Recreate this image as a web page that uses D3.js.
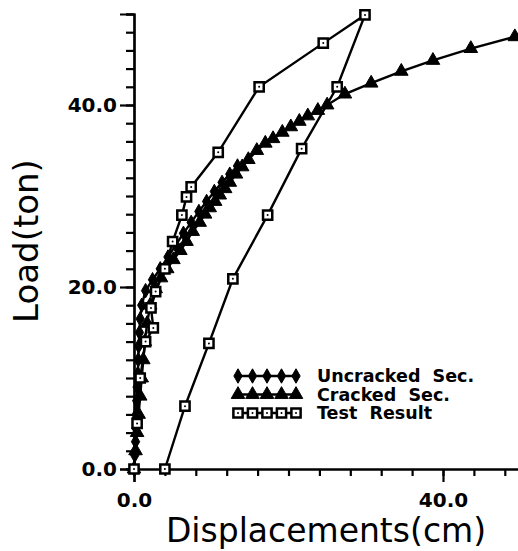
<!DOCTYPE html>
<html>
<head>
<meta charset="utf-8">
<script src="https://cdn.jsdelivr.net/npm/d3@7"></script>
<style>
  body { margin: 0; background: #fff; }
  svg { display: block; }
</style>
</head>
<body>
<div class="canvas"></div>
<script>
// data: displacement (cm), load (ton)
const uncrackedX = [0, 0.1, 0.2, 0.25, 0.3, 0.35, 0.4, 0.5, 0.55, 0.6, 0.7, 0.8, 1.0, 1.5, 2.4, 3.4, 4.4, 5.4, 6.4, 7.4, 8.4, 9.4, 10.4, 11.4, 12.4, 13.4];
const uncrackedY = [0, 1.5, 3, 4.5, 6, 7.5, 9, 10.5, 12, 13.5, 15, 16.5, 18, 19.6, 20.8, 22, 23.3, 24.6, 25.9, 27.1, 28.3, 29.4, 30.5, 31.5, 32.4, 33.3];

const crackedX = [0, 0.2, 0.4, 0.6, 0.8, 1.0, 1.2, 1.4, 1.7, 2.1, 2.8, 3.5, 4.3, 5.1, 6.0, 6.8, 7.6, 8.5, 9.2, 9.8, 10.5, 11.1, 11.8, 12.4, 13.2, 14.0, 14.8, 15.9, 17.0, 18.0, 19.2, 20.3, 21.4, 22.5, 23.8, 25.0, 27.3, 30.7, 34.6, 38.7, 43.6, 49.3, 54.0];
const crackedY = [0, 2, 4, 6, 8, 10, 12, 14, 16, 18, 19.8, 21, 22, 23, 24, 25, 26.1, 27.1, 28, 28.7, 29.4, 30.1, 30.8, 31.5, 32.4, 33.2, 34, 35, 35.8, 36.3, 37, 37.6, 38.2, 38.8, 39.4, 40, 41.2, 42.4, 43.7, 44.9, 46.2, 47.5, 48.6];

const testX = [0, 0.4, 0.8, 1.5, 2.5, 2.2, 2.8, 4.0, 5.0, 6.2, 6.8, 7.4, 10.9, 16.2, 24.5, 29.9, 26.3, 21.7, 17.3, 12.8, 9.7, 6.6, 4.0];
const testY = [0, 5, 10, 14, 15.5, 17.7, 19.5, 22, 25, 27.9, 29.9, 31, 34.8, 42, 46.8, 49.9, 42, 35.2, 27.9, 20.9, 13.8, 6.9, 0];

const xMinorTicks = d3.range(0, 51, 4);
const xMajorTicks = [0, 40];
const yMinorTicks = d3.range(0, 51, 2);
const yMajorTicks = [0, 20, 40];

const legendNames = ['Uncracked  Sec.', 'Cracked  Sec.', 'Test  Result'];

const zip = (xs, ys) => xs.map((v, i) => [v, ys[i]]);
const series = [
	{name: legendNames[0], shape: 'diamond', pts: zip(uncrackedX, uncrackedY)},
	{name: legendNames[1], shape: 'triangle', pts: zip(crackedX, crackedY)},
	{name: legendNames[2], shape: 'square', pts: zip(testX, testY)}
];

const width = 518, height = 551;
const svg = d3.select('.canvas')
	.append('svg')
	.attr('width', width)
	.attr('height', height);

const x = d3.scaleLinear().domain([0, 50]).range([134, 520.25]);
const y = d3.scaleLinear().domain([0, 50]).range([469, 14]);

const fmt = d3.format('.1f');

// axes: minor ticks, then major ticks with labels
const xMinor = svg.append('g')
	.attr('transform', `translate(0,${y(0)})`)
	.call(d3.axisBottom(x).tickValues(xMinorTicks).tickSize(7).tickFormat(''));
const xMajor = svg.append('g')
	.attr('transform', `translate(0,${y(0)})`)
	.call(d3.axisBottom(x).tickValues(xMajorTicks).tickSize(13).tickPadding(10).tickFormat(fmt));
const yMinor = svg.append('g')
	.attr('transform', `translate(${x(0)},0)`)
	.call(d3.axisLeft(y).tickValues(yMinorTicks).tickSize(8).tickFormat(''));
const yMajor = svg.append('g')
	.attr('transform', `translate(${x(0)},0)`)
	.call(d3.axisLeft(y).tickValues(yMajorTicks).tickSize(14).tickPadding(3).tickFormat(fmt));

[xMinor, xMajor, yMinor, yMajor].forEach(g => {
	g.selectAll('.domain').attr('stroke', '#000').attr('stroke-width', 2.2);
	g.selectAll('line').attr('stroke', '#000').attr('stroke-width', 2.2);
	g.selectAll('text')
		.attr('fill', '#000')
		.style('font-family', 'DejaVu Sans')
		.style('font-weight', 'bold')
		.style('font-size', '20px');
});
xMajor.selectAll('text').attr('dy', '0.75em');

// markers
const symbolFor = {
	diamond: d3.symbol().type(d3.symbolDiamond).size(60),
	triangle: d3.symbol().type(d3.symbolTriangle).size(80),
	square: d3.symbol().type(d3.symbolSquare).size(85)
};

function drawMarkers(g, s, pts) {
	const m = g.selectAll('path.mk')
		.data(pts)
		.enter()
		.append('path')
		.attr('class', 'mk')
		.attr('d', symbolFor[s.shape]())
		.attr('transform', d => `translate(${d[0]},${d[1]})`);
	if (s.shape === 'square') {
		m.attr('fill', '#fff').attr('stroke', '#000').attr('stroke-width', 2.5);
		g.selectAll('circle.dot')
			.data(pts)
			.enter()
			.append('circle')
			.attr('cx', d => d[0])
			.attr('cy', d => d[1])
			.attr('r', 1)
			.attr('fill', '#000');
	} else {
		m.attr('fill', '#000').attr('stroke', '#000').attr('stroke-width', 1);
	}
}

const line = d3.line();
const plot = svg.append('g');
series.forEach(s => {
	const pts = s.pts.map(d => [x(d[0]), y(d[1])]);
	const g = plot.append('g');
	g.append('path')
		.attr('d', line(pts))
		.attr('fill', 'none')
		.attr('stroke', '#000')
		.attr('stroke-width', 2.4);
	drawMarkers(g, s, pts);
});

// legend
const legend = svg.append('g');
series.forEach((s, i) => {
	const ly = 376 + i * 18.5;
	const g = legend.append('g');
	const lx = d3.range(5).map(k => 238 + k * 14.5);
	g.append('path')
		.attr('d', line([[lx[0], ly], [lx[4], ly]]))
		.attr('stroke', '#000')
		.attr('stroke-width', 2.4);
	drawMarkers(g, s, lx.map(v => [v, ly]));
	g.append('text')
		.attr('x', 317)
		.attr('y', ly)
		.attr('dy', '0.36em')
		.style('font-family', 'DejaVu Sans')
		.style('font-size', '17.5px')
		.style('font-weight', '600')
		.style('white-space', 'pre')
		.text(s.name);
});

// axis titles
svg.append('text')
	.attr('x', 326)
	.attr('y', 542)
	.attr('text-anchor', 'middle')
	.style('font-family', 'DejaVu Sans')
	.style('font-size', '33px')
	.text('Displacements(cm)');

svg.append('text')
	.attr('transform', 'translate(38,241) rotate(-90)')
	.attr('text-anchor', 'middle')
	.style('font-family', 'DejaVu Sans')
	.style('font-size', '34px')
	.text('Load(ton)');
</script>
</body>
</html>
